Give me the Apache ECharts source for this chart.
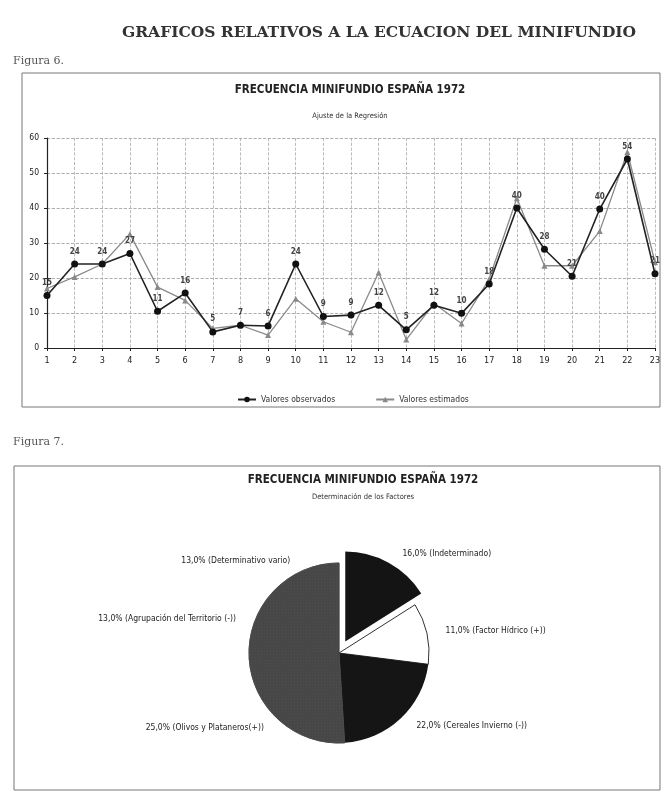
<!DOCTYPE html>
<html>
<head>
<meta charset="utf-8">
<script src="https://cdn.jsdelivr.net/npm/echarts@6/dist/echarts.min.js"></script>
<style>
html,body{margin:0;padding:0;background:#fff;}
#c{width:665px;height:798px;}
</style>
</head>
<body>
<div id="c"></div>
<script>
// ---- data ----
const xCategories = ['1','2','3','4','5','6','7','8','9','10','11','12','13','14','15','16','17','18','19','20','21','22','23'];
const observedValues = [15, 24, 24, 27, 10.5, 15.7, 4.6, 6.5, 6.3, 24, 9, 9.4, 12.2, 5.2, 12.2, 9.9, 18.3, 40, 28.2, 20.5, 39.7, 54, 21.2];
const estimatedValues = [17, 20.3, 24, 32.6, 17.4, 13.6, 5.6, 6.5, 3.7, 14.1, 7.5, 4.5, 21.6, 2.4, 12.7, 7, 19.7, 42.8, 23.5, 23.5, 33.4, 56, 24.5];
const yTickMin = 0, yTickMax = 60, yTickStep = 10;
const seriesNames = ['Valores observados', 'Valores estimados'];

const pieNames = ['Indeterminado', 'Factor Hídrico (+)', 'Cereales Invierno (-)', 'Olivos y Plataneros(+)', 'Agrupación del Territorio (-)', 'Determinativo vario'];
const pieValues = [16, 11, 22, 25, 13, 13];

const pageHeading = 'GRAFICOS RELATIVOS A LA ECUACION DEL MINIFUNDIO';
const chartTitle = 'FRECUENCIA MINIFUNDIO ESPAÑA 1972';
const lineSubtitle = 'Ajuste de la Regresión';
const pieSubtitle = 'Determinación de los Factores';

// ---- styles ----
const narrow = "'Liberation Sans Narrow','DejaVu Sans Condensed','Liberation Sans',sans-serif";
const serif = "'DejaVu Serif','Liberation Serif',serif";
const grayFill = '#474747';
const pieColors = ['#141414', '#ffffff', '#151515', grayFill, grayFill, grayFill];

const chart = echarts.init(document.getElementById('c'), null, {renderer: 'canvas'});

const pieData = pieNames.map((n, i) => {
  const style = {
    color: pieColors[i],
    borderColor: i === 1 ? '#333' : pieColors[i],
    borderWidth: i === 1 ? 1 : (i >= 3 ? 0.8 : 0)
  };
  if (i >= 3) {
    style.decal = {symbol: 'rect', symbolSize: 0.6, color: 'rgba(200,200,200,0.2)', dashArrayX: [1, 2], dashArrayY: [1, 2], rotation: 0};
  }
  return {name: n, value: pieValues[i], selected: i === 0, itemStyle: style};
});

chart.setOption({
  animation: false,
  backgroundColor: '#fff',
  title: [
    {text: pageHeading, left: 117, top: 20, textStyle: {fontFamily: serif, fontSize: 15.5, fontWeight: 'bold', color: '#333'}},
    {text: 'Figura 6.', left: 8, top: 51, textStyle: {fontFamily: serif, fontSize: 11, fontWeight: 'normal', color: '#555'}},
    {text: chartTitle, left: 345, textAlign: 'center', top: 79, textStyle: {fontFamily: narrow, fontSize: 11.5, fontWeight: 'bold', color: '#222'}},
    {text: lineSubtitle, left: 345, textAlign: 'center', top: 107, textStyle: {fontFamily: narrow, fontSize: 7.5, fontWeight: 'normal', color: '#333'}},
    {text: 'Figura 7.', left: 8, top: 432, textStyle: {fontFamily: serif, fontSize: 11, fontWeight: 'normal', color: '#555'}},
    {text: chartTitle, left: 358, textAlign: 'center', top: 469, textStyle: {fontFamily: narrow, fontSize: 11.5, fontWeight: 'bold', color: '#222'}},
    {text: pieSubtitle, left: 358, textAlign: 'center', top: 488, textStyle: {fontFamily: narrow, fontSize: 7.5, fontWeight: 'normal', color: '#333'}}
  ],
  graphic: [
    {type: 'rect', shape: {x: 22, y: 73, width: 638, height: 334}, style: {fill: 'none', stroke: '#777', lineWidth: 1}, z: -1},
    {type: 'rect', shape: {x: 14, y: 466, width: 646, height: 324}, style: {fill: 'none', stroke: '#777', lineWidth: 1}, z: -1}
  ],
  legend: {
    data: seriesNames,
    left: 232,
    top: 390,
    itemGap: 40,
    itemWidth: 18,
    itemHeight: 7,
    textStyle: {fontFamily: narrow, fontSize: 8.5, color: '#333'}
  },
  grid: {left: 47, right: 10, top: 138, height: 210, containLabel: false},
  xAxis: {
    type: 'category',
    data: xCategories,
    boundaryGap: false,
    axisLine: {lineStyle: {color: '#222', width: 1.2}},
    axisTick: {show: true, alignWithLabel: true, length: 3, lineStyle: {color: '#222'}},
    axisLabel: {fontFamily: narrow, fontSize: 9, color: '#222', margin: 8},
    splitLine: {show: true, lineStyle: {color: '#aaa', type: 'dashed', width: 0.8}}
  },
  yAxis: {
    type: 'value',
    min: yTickMin, max: yTickMax, interval: yTickStep,
    axisLine: {show: true, lineStyle: {color: '#222', width: 1.2}},
    axisTick: {show: true, length: 3, lineStyle: {color: '#222'}},
    axisLabel: {fontFamily: narrow, fontSize: 8.5, color: '#222', margin: 8},
    splitLine: {show: true, lineStyle: {color: '#999', type: 'dashed', width: 0.8}}
  },
  series: [
    {
      name: seriesNames[0],
      type: 'line',
      data: observedValues,
      symbol: 'circle',
      symbolSize: 7,
      itemStyle: {color: '#111'},
      lineStyle: {color: '#222', width: 1.6},
      z: 3,
      label: {show: true, position: 'top', distance: 5, fontFamily: narrow, fontSize: 8, fontWeight: 'bold', color: '#444', formatter: p => Math.round(p.value)}
    },
    {
      name: seriesNames[1],
      type: 'line',
      data: estimatedValues,
      symbol: 'triangle',
      symbolSize: 6,
      itemStyle: {color: '#8a8a8a'},
      lineStyle: {color: '#8a8a8a', width: 1.3},
      z: 2
    },
    {
      type: 'pie',
      center: [339, 653],
      radius: 90,
      startAngle: 90,
      clockwise: true,
      selectedMode: 'single',
      selectedOffset: 13,
      avoidLabelOverlap: false,
      label: {
        show: true,
        position: 'outside',
        fontFamily: narrow,
        fontSize: 8.5,
        color: '#222',
        formatter: p => p.value.toFixed(1).replace('.', ',') + '% (' + p.name + ')'
      },
      labelLine: {show: false, length: 10, length2: 4},
      emphasis: {disabled: true},
      data: pieData
    }
  ]
});
</script>
</body>
</html>
